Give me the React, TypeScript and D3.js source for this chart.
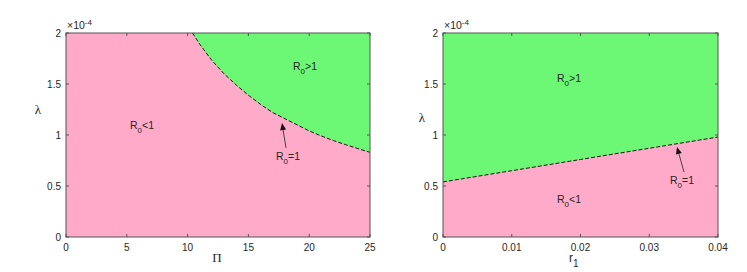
import React from 'react';
import * as d3 from 'd3';

// left panel: boundary R0=1 in (Pi, lambda) plane, lambda in units of 1e-4
const piValues = [10.4, 11, 12, 13, 14, 15, 16, 17, 18, 19, 20, 21, 22, 23, 24, 25];
const piLambda = [2.0, 1.89, 1.73, 1.6, 1.49, 1.39, 1.3, 1.22, 1.16, 1.1, 1.04, 0.99, 0.945, 0.905, 0.867, 0.83];

// right panel: boundary R0=1 in (r1, lambda) plane
const r1Values = [0, 0.01, 0.02, 0.03, 0.04];
const r1Lambda = [0.54, 0.65, 0.76, 0.87, 0.98];

const piTicks = [0, 5, 10, 15, 20, 25];
const r1Ticks = [0, 0.01, 0.02, 0.03, 0.04];
const lambdaTicks = [0, 0.5, 1, 1.5, 2];

const PINK = '#ffaac8';
const GREEN = '#6cf874';
const INK = '#262626';
const SANS = 'Liberation Sans, Arial, sans-serif';
const SERIF = 'Liberation Serif, Times New Roman, serif';

type PanelProps = {
  left: number;
  right: number;
  xDomain: [number, number];
  xTicks: number[];
  xs: number[];
  ys: number[];
  xLabel: React.ReactNode;
  labels: { text: string; x: number; y: number }[];
  arrow: { x1: number; y1: number; x2: number; y2: number; tx: number; ty: number };
  lambdaX: number;
  lambdaY: number;
};

const top = 33;
const bottom = 237;

const R0 = ({ x, y, op }: { x: number; y: number; op: string }) => (
  <text x={x} y={y} fontFamily={SANS} fontSize={10.5} fill={INK}>
    R<tspan fontSize={8} dy={4}>0</tspan>
    <tspan dy={-4}>{op}</tspan>
  </text>
);

const Panel = (p: PanelProps) => {
  const x = d3.scaleLinear().domain(p.xDomain).range([p.left, p.right]);
  const y = d3.scaleLinear().domain([0, 2]).range([bottom, top]);
  const pts: [number, number][] = p.xs.map((v, i) => [v, p.ys[i]]);

  // green region above the boundary curve, pink box underneath
  const curve = d3.line<[number, number]>().x((d) => x(d[0])).y((d) => y(d[1]));
  const curvePath = curve(pts) || '';
  const first = pts[0];
  const last = pts[pts.length - 1];
  const upper = `${curvePath}L${x(last[0])},${y(2)}L${x(first[0])},${y(2)}Z`;

  const a = p.arrow;
  const ang = Math.atan2(a.y2 - a.y1, a.x2 - a.x1);
  const hl = 7;
  const hw = 3;
  const bx = a.x2 - hl * Math.cos(ang);
  const by = a.y2 - hl * Math.sin(ang);
  const head = `M${a.x2},${a.y2}L${bx + hw * Math.sin(ang)},${by - hw * Math.cos(ang)}L${bx - hw * Math.sin(ang)},${by + hw * Math.cos(ang)}Z`;

  return (
    <g>
      <rect x={p.left} y={top} width={p.right - p.left} height={bottom - top} fill={PINK} />
      <path d={upper} fill={GREEN} />
      <path d={curvePath} fill="none" stroke="#1a1a1a" strokeWidth={1} strokeDasharray="4,2" />
      <rect x={p.left} y={top} width={p.right - p.left} height={bottom - top} fill="none" stroke="#555" strokeWidth={1} />
      {p.xTicks.map((t) => (
        <g key={'x' + t}>
          <line x1={x(t)} x2={x(t)} y1={bottom} y2={bottom - 3} stroke="#555" />
          <line x1={x(t)} x2={x(t)} y1={top} y2={top + 3} stroke="#555" />
          <text x={x(t)} y={bottom + 14} textAnchor="middle" fontFamily={SANS} fontSize={10} fill={INK}>
            {String(t)}
          </text>
        </g>
      ))}
      {lambdaTicks.map((t) => (
        <g key={'y' + t}>
          <line x1={p.left} x2={p.left + 3} y1={y(t)} y2={y(t)} stroke="#555" />
          <line x1={p.right} x2={p.right - 3} y1={y(t)} y2={y(t)} stroke="#555" />
          <text x={p.left - 5} y={y(t) + 3.5} textAnchor="end" fontFamily={SANS} fontSize={10} fill={INK}>
            {t}
          </text>
        </g>
      ))}
      <text x={p.left + 1} y={top - 4} fontFamily={SANS} fontSize={10.5} fill={INK}>
        ×10<tspan fontSize={8} dy={-4}>-4</tspan>
      </text>
      <text x={p.lambdaX} y={p.lambdaY} textAnchor="middle" fontFamily={SERIF} fontSize={13} fill={INK}>
        λ
      </text>
      {p.xLabel}
      {p.labels.map((l) => (
        <R0 key={l.text} x={l.x} y={l.y} op={l.text} />
      ))}
      <line x1={a.x1} y1={a.y1} x2={bx} y2={by} stroke="#222" strokeWidth={0.8} />
      <path d={head} fill="#111" />
      <R0 x={a.tx} y={a.ty} op="=1" />
    </g>
  );
};

const App = () => {
  return (
    <div style={{ position: 'fixed', left: 0, top: 0, background: '#fff' }}>
      <svg width={747} height={272} style={{ display: 'block' }}>
        <rect width={747} height={272} fill="#fff" />
        <Panel
          left={66}
          right={370}
          xDomain={[0, 25]}
          xTicks={piTicks}
          xs={piValues}
          ys={piLambda}
          xLabel={
            <text x={217} y={262} textAnchor="middle" fontFamily={SERIF} fontSize={13} fill={INK}>
              Π
            </text>
          }
          labels={[
            { text: '<1', x: 130, y: 129 },
            { text: '>1', x: 293, y: 70 },
          ]}
          arrow={{ x1: 286, y1: 148, x2: 282, y2: 123, tx: 276, ty: 160 }}
          lambdaX={38}
          lambdaY={114}
        />
        <Panel
          left={443}
          right={718}
          xDomain={[0, 0.04]}
          xTicks={r1Ticks}
          xs={r1Values}
          ys={r1Lambda}
          xLabel={
            <text x={569} y={262} fontFamily={SANS} fontSize={12} fill={INK}>
              r<tspan fontSize={10} dy={5}>1</tspan>
            </text>
          }
          labels={[
            { text: '>1', x: 557, y: 82 },
            { text: '<1', x: 557, y: 203 },
          ]}
          arrow={{ x1: 684, y1: 172, x2: 677, y2: 147, tx: 670, ty: 184 }}
          lambdaX={422}
          lambdaY={122}
        />
      </svg>
    </div>
  );
};

export default App;
